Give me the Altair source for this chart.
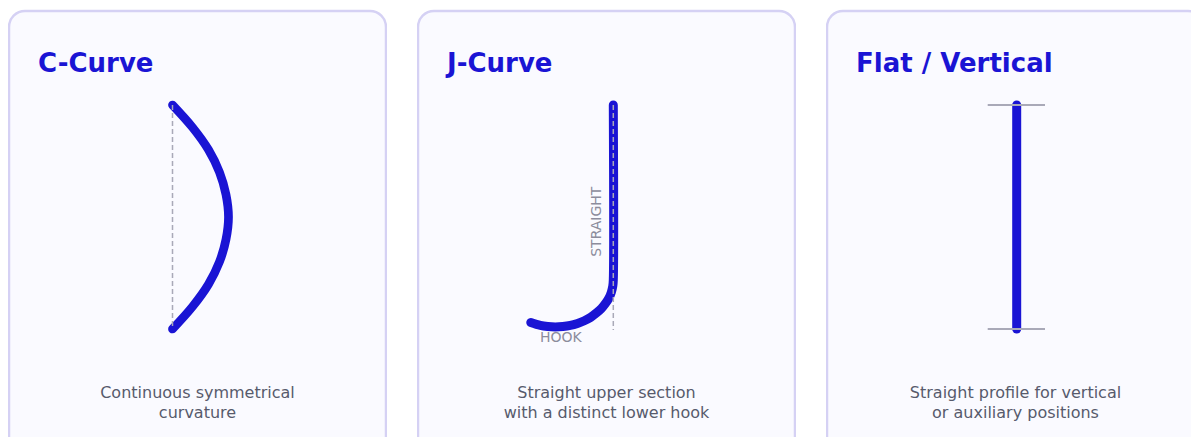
import altair as alt
import pandas as pd

# ---- text content ----
panel_titles = ["C-Curve", "J-Curve", "Flat / Vertical"]
panel_captions = [
    "Continuous symmetrical\ncurvature",
    "Straight upper section\nwith a distinct lower hook",
    "Straight profile for vertical\nor auxiliary positions",
]
j_labels = ["STRAIGHT", "HOOK"]

# ---- shape data (depth: 0 = top, 100 = bottom; offset: lateral, from card centre) ----
c_depth = [0, 10, 20, 30, 40, 50, 60, 70, 80, 90, 100]
c_offset = [-25, -5, 11, 22, 28.5, 31, 28.5, 22, 11, -5, -25]
c_chord_depth = [0, 100]
c_chord_offset = [-25, -25]

j_depth = [0, 78.1, 80.8, 83.6, 86.2, 88.6, 90.9, 92.9, 94.8, 96.3, 97.5, 98.4, 98.9,
           99.1, 98.9, 98.4, 97.1]
j_offset = [6.8, 6.8, 6.3, 4.8, 2.4, -1.0, -5.2, -10.2, -15.9, -22.2, -29.0, -36.2, -43.6,
            -51.2, -58.8, -66.2, -75.7]
j_guide_depth = [0, 100.4]
j_guide_offset = [6.8, 6.8]

flat_depth = [0, 100]
flat_offset = [1.2, 1.2]
flat_tick_depth = [0, 100]
flat_tick_from = [-27.8, -27.8]
flat_tick_to = [29.5, 29.5]

# ---- styles ----
BLUE = "#1a14d4"
GUIDE = "#a9a9b8"
CAPTION = "#575a6c"
LABEL = "#8c8c9c"
CARD_FILL = "#fafaff"
CARD_STROKE = "#d5d1f4"
FONT = "DejaVu Sans"
CARD_W = 379
H = 429
CX = CARD_W / 2


def scales(width):
    xs = alt.Scale(domain=[-CX, width - CX], nice=False, zero=False)
    ys = alt.Scale(domain=[0, 100], range=[97, 321], nice=False, zero=False)
    return xs, ys


def card():
    return alt.Chart(pd.DataFrame({"k": [0]})).mark_rect(
        clip=True, cornerRadius=16, fill=CARD_FILL, stroke=CARD_STROKE, strokeWidth=2.5
    ).encode(x=alt.value(1), x2=alt.value(CARD_W - 1), y=alt.value(3), y2=alt.value(480))


def curve(width, depth, offset, sw=9, interp="catmull-rom"):
    xs, ys = scales(width)
    df = pd.DataFrame({"depth": depth, "offset": offset, "i": range(len(depth))})
    return alt.Chart(df).mark_line(
        color=BLUE, strokeWidth=sw, strokeCap="round", strokeJoin="round",
        interpolate=interp,
    ).encode(
        x=alt.X("offset:Q", scale=xs, axis=None),
        y=alt.Y("depth:Q", scale=ys, axis=None),
        order=alt.Order("i:Q"),
    )


def guide(width, depth, offset):
    xs, ys = scales(width)
    df = pd.DataFrame({"depth": depth, "offset": offset, "i": range(len(depth))})
    return alt.Chart(df).mark_line(
        color=GUIDE, strokeWidth=1.5, strokeDash=[5, 3]
    ).encode(
        x=alt.X("offset:Q", scale=xs, axis=None),
        y=alt.Y("depth:Q", scale=ys, axis=None),
        order=alt.Order("i:Q"),
    )


def title_layer(t):
    return alt.Chart(pd.DataFrame({"t": [t]})).mark_text(
        font=FONT, fontSize=26, fontWeight="bold", color=BLUE,
        align="left", baseline="alphabetic",
    ).encode(text="t:N", x=alt.value(30), y=alt.value(64))


def caption_layer(t):
    return alt.Chart(pd.DataFrame({"t": [t]})).mark_text(
        font=FONT, fontSize=16, color=CAPTION, align="center",
        baseline="alphabetic", lineBreak="\n", lineHeight=20,
    ).encode(text="t:N", x=alt.value(CX), y=alt.value(390))


# ---- panel 1 ----
W1 = CARD_W
p1 = alt.layer(
    card(),
    title_layer(panel_titles[0]),
    curve(W1, c_depth, c_offset, sw=8.7),
    guide(W1, c_chord_depth, c_chord_offset),
    caption_layer(panel_captions[0]),
).properties(width=W1, height=H)

# ---- panel 2 ----
W2 = CARD_W
straight_lbl = alt.Chart(pd.DataFrame({"t": [j_labels[0]]})).mark_text(
    font=FONT, fontSize=14, color=LABEL, angle=270, align="center", baseline="alphabetic"
).encode(text="t:N", x=alt.value(184), y=alt.value(213.7))
hook_lbl = alt.Chart(pd.DataFrame({"t": [j_labels[1]]})).mark_text(
    font=FONT, fontSize=14, color=LABEL, align="center", baseline="alphabetic"
).encode(text="t:N", x=alt.value(143.8), y=alt.value(334))

p2 = alt.layer(
    card(),
    title_layer(panel_titles[1]),
    straight_lbl,
    hook_lbl,
    curve(W2, j_depth, j_offset),
    guide(W2, j_guide_depth, j_guide_offset),
    caption_layer(panel_captions[1]),
).properties(width=W2, height=H)

# ---- panel 3 (cut by the right edge of the page) ----
W3 = 365
xs3, ys3 = scales(W3)
ticks_df = pd.DataFrame({"depth": flat_tick_depth, "x1": flat_tick_from, "x2": flat_tick_to})
ticks = alt.Chart(ticks_df).mark_rule(color=GUIDE, strokeWidth=2).encode(
    x=alt.X("x1:Q", scale=xs3, axis=None),
    x2="x2:Q",
    y=alt.Y("depth:Q", scale=ys3, axis=None),
)
p3 = alt.layer(
    card(),
    title_layer(panel_titles[2]),
    curve(W3, flat_depth, flat_offset, sw=9, interp="linear"),
    ticks,
    caption_layer(panel_captions[2]),
).properties(width=W3, height=H)

chart = alt.hconcat(p1, p2, p3, spacing=30).configure(
    padding=0,
    background="white",
).configure_view(strokeWidth=0, fill="white")

chart.save("out.html", embed_options={"renderer": "svg", "actions": False})
